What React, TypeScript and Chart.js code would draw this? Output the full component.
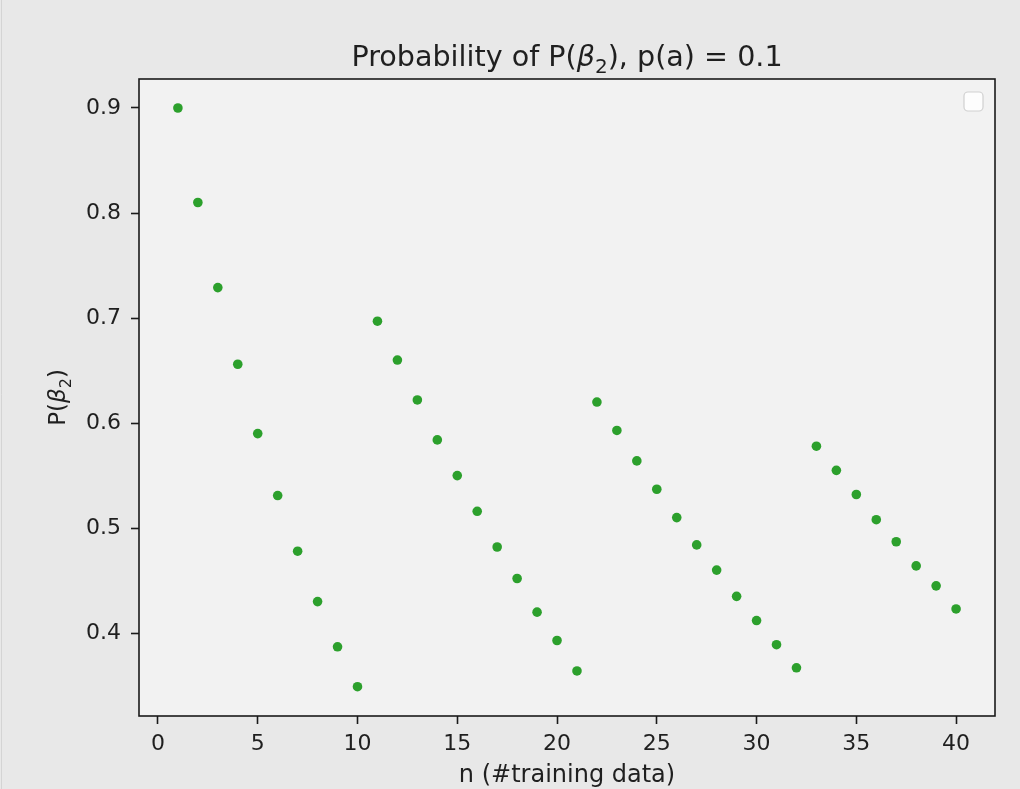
import React, { useEffect, useRef } from 'react';
import { Chart, registerables } from 'chart.js';

Chart.register(...registerables);

// ---- data ----
const trainingSizes = [
  1, 2, 3, 4, 5, 6, 7, 8, 9, 10,
  11, 12, 13, 14, 15, 16, 17, 18, 19, 20, 21,
  22, 23, 24, 25, 26, 27, 28, 29, 30, 31, 32,
  33, 34, 35, 36, 37, 38, 39, 40,
];
const probabilities = [
  0.900, 0.810, 0.729, 0.656, 0.590, 0.531, 0.478, 0.430, 0.387, 0.349,
  0.697, 0.660, 0.622, 0.584, 0.550, 0.516, 0.482, 0.452, 0.420, 0.393, 0.364,
  0.620, 0.593, 0.564, 0.537, 0.510, 0.484, 0.460, 0.435, 0.412, 0.389, 0.367,
  0.578, 0.555, 0.532, 0.508, 0.487, 0.464, 0.445, 0.423,
];
const xTicks = [0, 5, 10, 15, 20, 25, 30, 35, 40];
const xTickLabels = ['0', '5', '10', '15', '20', '25', '30', '35', '40'];
const yTicks = [0.4, 0.5, 0.6, 0.7, 0.8, 0.9];
const yTickLabels = ['0.4', '0.5', '0.6', '0.7', '0.8', '0.9'];
const X_MIN = -0.95;
const X_MAX = 41.95;
const Y_MIN = 0.3211;
const Y_MAX = 0.9276;

type Seg = { text: string; italic?: boolean; sub?: boolean };
const TITLE_SEGMENTS: Seg[] = [
  { text: 'Probability of P(' },
  { text: 'β', italic: true },
  { text: '2', sub: true },
  { text: '), p(a) = 0.1' },
];
const Y_LABEL_SEGMENTS: Seg[] = [
  { text: 'P(' },
  { text: 'β', italic: true },
  { text: '2', sub: true },
  { text: ')' },
];
const X_LABEL = 'n (#training data)';

// ---- style ----
const FONT = "'DejaVu Sans'";
const OUTER_BG = '#e8e8e8';
const PLOT_BG = '#f2f2f2';
const GREEN = '#2ca02c';
const TEXT = '#1f1f1f';
const AXIS = '#1a1a1a';

function drawRich(
  ctx: CanvasRenderingContext2D,
  segs: Seg[],
  size: number,
  cx: number,
  baseline: number
) {
  const fontFor = (s: Seg) =>
    `${s.italic ? 'italic ' : ''}${s.sub ? size * 0.7 : size}px ${FONT}`;
  let total = 0;
  const widths = segs.map((s) => {
    ctx.font = fontFor(s);
    const w = ctx.measureText(s.text).width;
    total += w;
    return w;
  });
  let x = cx - total / 2;
  ctx.textAlign = 'left';
  ctx.textBaseline = 'alphabetic';
  segs.forEach((s, i) => {
    ctx.font = fontFor(s);
    ctx.fillText(s.text, x, baseline + (s.sub ? size * 0.25 : 0));
    x += widths[i];
  });
}

const backgroundPlugin = {
  id: 'backgrounds',
  beforeDraw(chart: any) {
    const { ctx, chartArea, width, height } = chart;
    ctx.save();
    ctx.fillStyle = OUTER_BG;
    ctx.fillRect(0, 0, width, height);
    ctx.strokeStyle = '#d4d4d4';
    ctx.lineWidth = 1;
    ctx.beginPath();
    ctx.moveTo(1.5, 0);
    ctx.lineTo(1.5, height);
    ctx.stroke();
    ctx.fillStyle = PLOT_BG;
    ctx.fillRect(
      chartArea.left,
      chartArea.top,
      chartArea.right - chartArea.left,
      chartArea.bottom - chartArea.top
    );
    ctx.restore();
  },
};

const decorPlugin = {
  id: 'decor',
  afterDraw(chart: any) {
    const { ctx, chartArea } = chart;
    const { left, right, top, bottom } = chartArea;
    ctx.save();
    // frame
    ctx.strokeStyle = AXIS;
    ctx.lineWidth = 1.6;
    ctx.strokeRect(left, top, right - left, bottom - top);
    // empty legend box
    const lx = right - 31;
    const ly = top + 13;
    ctx.beginPath();
    if ((ctx as any).roundRect) (ctx as any).roundRect(lx, ly, 19, 19, 4);
    else ctx.rect(lx, ly, 19, 19);
    ctx.fillStyle = 'rgba(255,255,255,0.8)';
    ctx.fill();
    ctx.strokeStyle = 'rgba(204,204,204,0.9)';
    ctx.lineWidth = 1.2;
    ctx.stroke();
    // title
    ctx.fillStyle = TEXT;
    drawRich(ctx, TITLE_SEGMENTS, 28.6, (left + right) / 2, top - 13);
    // y label (rotated)
    ctx.translate(left - 74, (top + bottom) / 2);
    ctx.rotate(-Math.PI / 2);
    drawRich(ctx, Y_LABEL_SEGMENTS, 23, 0, 0);
    ctx.restore();
  },
};

export default function App() {
  const ref = useRef<HTMLCanvasElement>(null);

  useEffect(() => {
    document.body.style.margin = '0';
    document.body.style.background = OUTER_BG;
    const canvas = ref.current;
    if (!canvas) return;
    const points = trainingSizes.map((n, i) => ({ x: n, y: probabilities[i] }));
    const chart = new Chart(canvas, {
      type: 'scatter',
      data: {
        datasets: [
          {
            data: points,
            backgroundColor: GREEN,
            borderColor: GREEN,
            borderWidth: 0,
            pointRadius: 4.8,
            pointHoverRadius: 4.8,
          },
        ],
      },
      options: {
        responsive: false,
        animation: false,
        devicePixelRatio: 1,
        events: [],
        layout: { padding: { top: 79, right: 25, left: 0, bottom: 0 } },
        plugins: {
          legend: { display: false },
          title: { display: false },
          tooltip: { enabled: false },
        },
        scales: {
          x: {
            type: 'linear',
            position: 'bottom',
            min: X_MIN,
            max: X_MAX,
            afterBuildTicks: (s: any) => {
              s.ticks = xTicks.map((v) => ({ value: v }));
            },
            afterFit: (s: any) => {
              s.height = 73;
            },
            ticks: {
              font: { family: FONT, size: 22 },
              color: TEXT,
              padding: 7,
              maxRotation: 0,
              autoSkip: false,
              callback: (_v: any, i: number) => xTickLabels[i],
            },
            grid: {
              display: true,
              drawOnChartArea: false,
              drawTicks: true,
              tickLength: 8,
              tickColor: AXIS,
              tickWidth: 1.6,
            },
            border: { display: false },
            title: {
              display: true,
              text: X_LABEL,
              font: { family: FONT, size: 24, lineHeight: 1.1 },
              color: TEXT,
              padding: 0,
            },
          },
          y: {
            type: 'linear',
            position: 'left',
            min: Y_MIN,
            max: Y_MAX,
            afterBuildTicks: (s: any) => {
              s.ticks = yTicks.map((v) => ({ value: v }));
            },
            afterFit: (s: any) => {
              s.width = 139;
            },
            ticks: {
              font: { family: FONT, size: 22 },
              color: TEXT,
              padding: 10,
              autoSkip: false,
              callback: (_v: any, i: number) => yTickLabels[i],
            },
            grid: {
              display: true,
              drawOnChartArea: false,
              drawTicks: true,
              tickLength: 8,
              tickColor: AXIS,
              tickWidth: 1.6,
            },
            border: { display: false },
          },
        },
      } as any,
      plugins: [backgroundPlugin, decorPlugin],
    });
    return () => chart.destroy();
  }, []);

  return <canvas ref={ref} width={1020} height={789} style={{ display: 'block' }} />;
}
